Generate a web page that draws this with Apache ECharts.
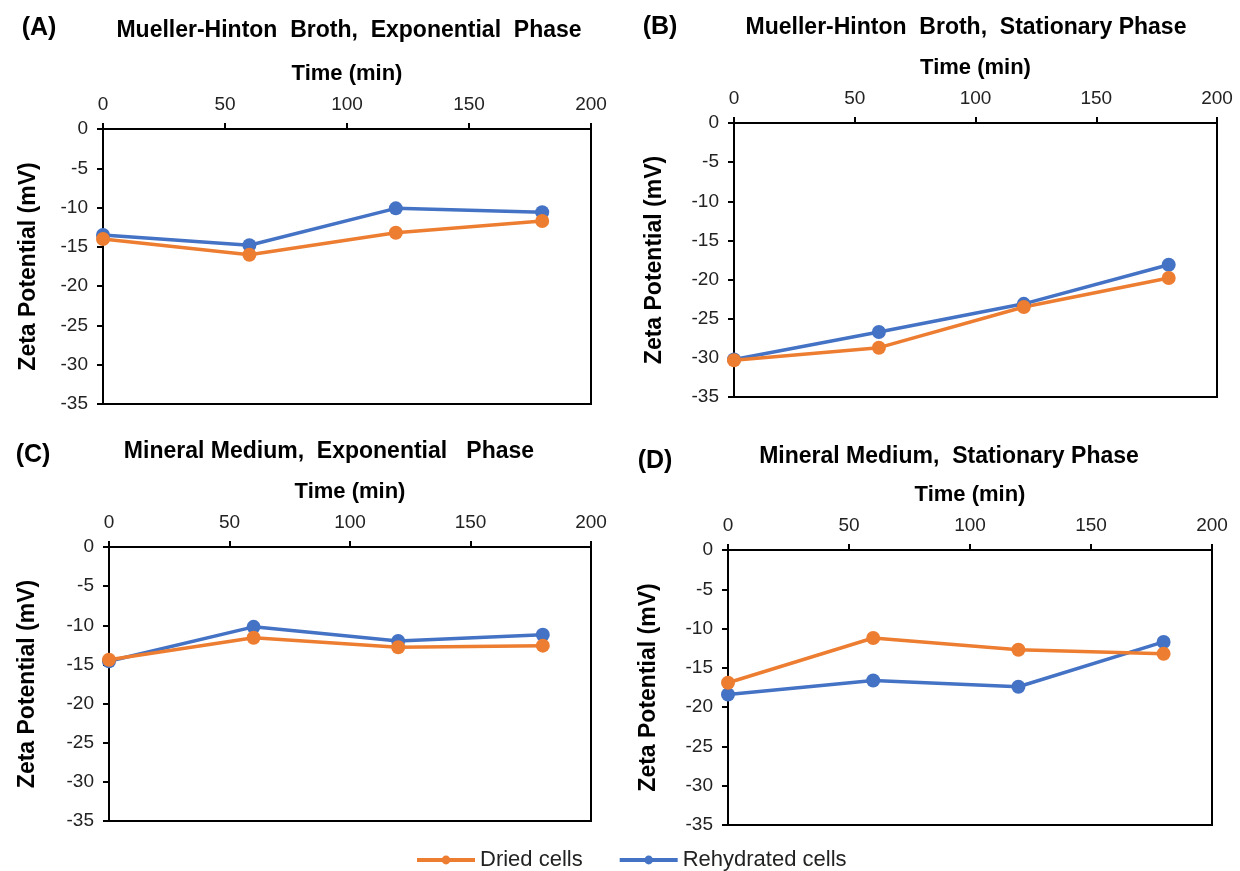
<!DOCTYPE html>
<html>
<head>
<meta charset="utf-8">
<script src="https://cdn.jsdelivr.net/npm/echarts@6/dist/echarts.min.js"></script>
<style>
html,body{margin:0;padding:0;background:#fff;}
#chart{width:1240px;height:871px;}
</style>
</head>
<body>
<div id="chart"></div>
<script>
// ---- data ----
const times = [0, 60, 120, 180];
const panelTitles = [
  'Mueller-Hinton  Broth,  Exponential  Phase',
  'Mueller-Hinton  Broth,  Stationary Phase',
  'Mineral Medium,  Exponential   Phase',
  'Mineral Medium,  Stationary Phase'
];
const panelLetters = ['(A)', '(B)', '(C)', '(D)'];
const seriesNames = ['Dried cells', 'Rehydrated cells'];
const driedA = [-14.0, -16.0, -13.2, -11.7];
const rehydA = [-13.5, -14.8, -10.1, -10.6];
const driedB = [-30.3, -28.7, -23.5, -19.8];
const rehydB = [-30.2, -26.7, -23.1, -18.1];
const driedC = [-14.4, -11.6, -12.8, -12.6];
const rehydC = [-14.6, -10.2, -12.0, -11.2];
const driedD = [-16.9, -11.2, -12.7, -13.2];
const rehydD = [-18.4, -16.6, -17.4, -11.7];
const xTicks = {min: 0, max: 200, interval: 50};
const yTicks = {min: -35, max: 0, interval: 5};
const xName = 'Time (min)';
const yName = 'Zeta Potential (mV)';

// ---- layout ----
const grids = [
  {left: 103, top: 129, width: 488, height: 275},
  {left: 734, top: 123, width: 483, height: 274},
  {left: 109, top: 547, width: 482, height: 274},
  {left: 728, top: 550, width: 484, height: 275}
];
const yNameGaps = [63, 68, 70, 68];
const titlePos = [[349, 31], [966, 28], [329, 452], [949, 457]];
const letterPos = [[39, 28], [660, 27], [33, 455], [655, 461]];
const dried = [driedA, driedB, driedC, driedD];
const rehyd = [rehydA, rehydB, rehydC, rehydD];

const ORANGE = '#ED7D31';
const BLUE = '#4472C4';
const FONT = '"Liberation Sans", Arial, sans-serif';

const chart = echarts.init(document.getElementById('chart'), null, {renderer: 'canvas'});

const xAxes = [], yAxes = [], series = [], graphics = [];
grids.forEach((g, i) => {
  xAxes.push({
    type: 'value', gridIndex: i, position: 'top',
    min: xTicks.min, max: xTicks.max, interval: xTicks.interval,
    name: xName, nameLocation: 'middle', nameGap: 44,
    nameTextStyle: {fontFamily: FONT, fontWeight: 'bold', fontSize: 22, color: '#000'},
    axisLine: {show: true, onZero: false, lineStyle: {color: '#000', width: 2}},
    axisTick: {show: true, inside: false, length: 6, lineStyle: {color: '#000', width: 2}},
    axisLabel: {fontFamily: FONT, fontSize: 19, color: '#222', margin: 15},
    splitLine: {show: false}
  });
  yAxes.push({
    type: 'value', gridIndex: i,
    min: yTicks.min, max: yTicks.max, interval: yTicks.interval,
    name: yName, nameLocation: 'middle', nameGap: yNameGaps[i], nameRotate: 90,
    nameTextStyle: {fontFamily: FONT, fontWeight: 'bold', fontSize: 23, color: '#000'},
    axisLine: {show: true, onZero: false, lineStyle: {color: '#000', width: 2}},
    axisTick: {show: true, inside: false, length: 6, lineStyle: {color: '#000', width: 2}},
    axisLabel: {fontFamily: FONT, fontSize: 19, color: '#222', margin: 15},
    splitLine: {show: false}
  });
  series.push({
    name: seriesNames[1], type: 'line', xAxisIndex: i, yAxisIndex: i,
    data: times.map((t, k) => [t, rehyd[i][k]]),
    color: BLUE, symbol: 'circle', symbolSize: 14,
    lineStyle: {width: 3.5, color: BLUE}, itemStyle: {color: BLUE},
    emphasis: {disabled: true}, animation: false
  });
  series.push({
    name: seriesNames[0], type: 'line', xAxisIndex: i, yAxisIndex: i,
    data: times.map((t, k) => [t, dried[i][k]]),
    color: ORANGE, symbol: 'circle', symbolSize: 14,
    lineStyle: {width: 3.5, color: ORANGE}, itemStyle: {color: ORANGE},
    emphasis: {disabled: true}, animation: false
  });
  graphics.push({
    type: 'text', x: titlePos[i][0], y: titlePos[i][1],
    style: {text: panelTitles[i], font: 'bold 23px ' + FONT, fill: '#000',
            textAlign: 'center', textVerticalAlign: 'middle'}
  });
  graphics.push({
    type: 'text', x: letterPos[i][0], y: letterPos[i][1],
    style: {text: panelLetters[i], font: 'bold 25px ' + FONT, fill: '#000',
            textAlign: 'center', textVerticalAlign: 'middle'}
  });
});

chart.setOption({
  backgroundColor: '#fff',
  animation: false,
  grid: grids.map(g => Object.assign({show: true, borderColor: '#000', borderWidth: 2,
                                      backgroundColor: 'transparent', containLabel: false}, g)),
  xAxis: xAxes,
  yAxis: yAxes,
  series: series,
  legend: {
    data: seriesNames,
    left: 410, top: 844,
    itemWidth: 58, itemHeight: 11, itemGap: 35,
    lineStyle: {width: 4},
    textStyle: {fontFamily: FONT, fontSize: 22, color: '#222'}
  },
  graphic: graphics
});
</script>
</body>
</html>
